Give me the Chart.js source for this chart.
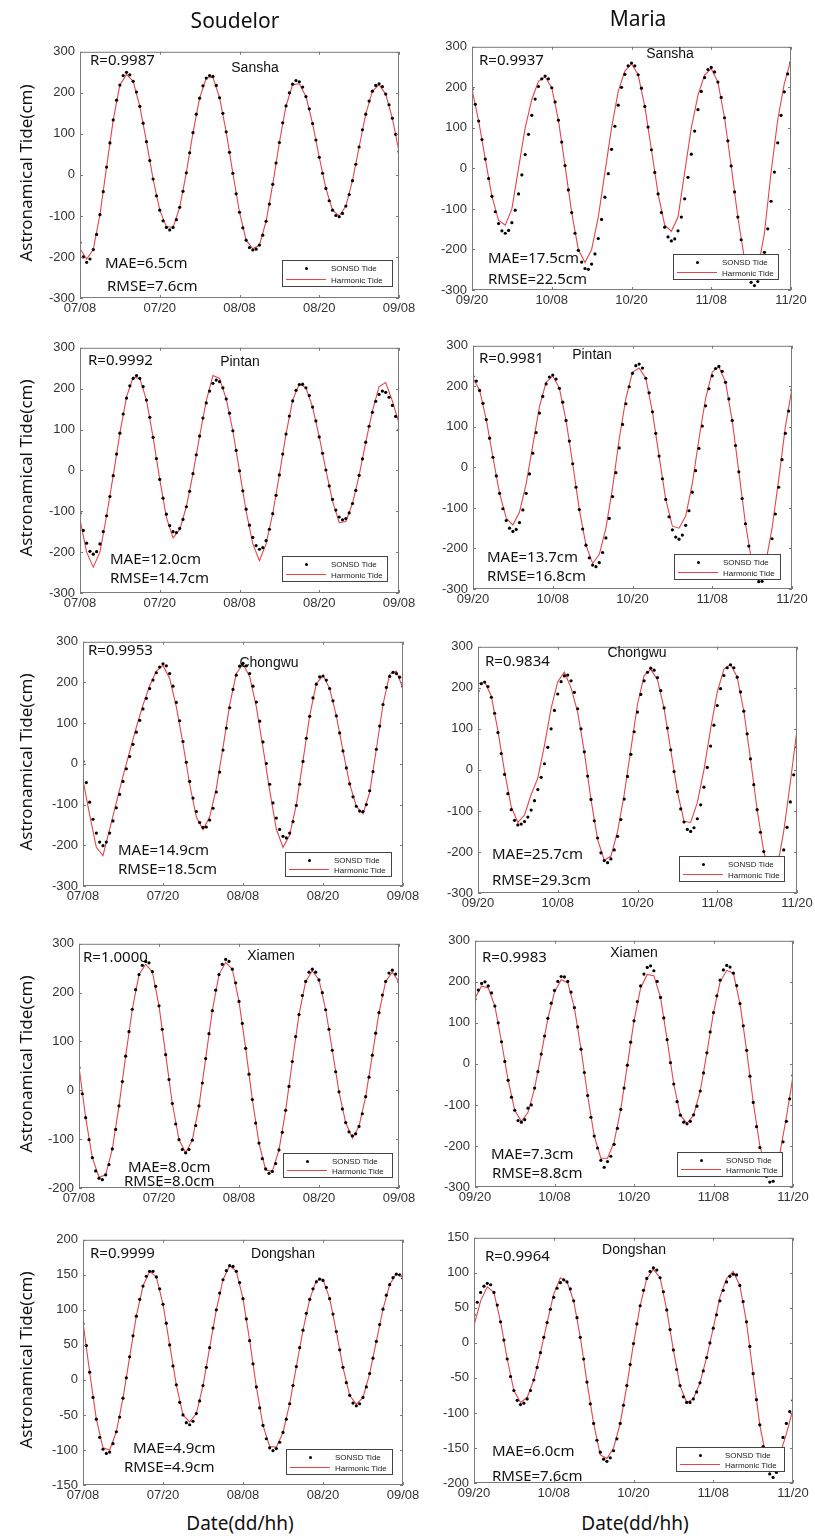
<!DOCTYPE html>
<html>
<head>
<meta charset="utf-8">
<script src="https://cdn.jsdelivr.net/npm/chart.js@4.4.0/dist/chart.umd.min.js"></script>
<style>
body{margin:0;background:#fff;}
#fig{position:relative;width:815px;height:1536px;overflow:hidden;background:#fff;font-family:"Noto Sans",sans-serif;}
.t{position:absolute;white-space:nowrap;line-height:1;color:#111;}
.leg{position:absolute;background:#fff;border:1px solid #444;box-sizing:border-box;font-family:"Liberation Sans",Arial,sans-serif;font-size:8px;color:#222;}
.leg span{position:absolute;white-space:nowrap;line-height:1;transform:translateY(-50%);}
.leg b{position:absolute;display:block;}
</style>
</head>
<body>
<div id="fig"></div>
<script>
// time axis (hours after first tick)
const obsHours=[0,0.5,1,1.5,2,2.5,3,3.5,4,4.5,5,5.5,6,6.5,7,7.5,8,8.5,9,9.5,10,10.5,11,11.5,12,12.5,13,13.5,14,14.5,15,15.5,16,16.5,17,17.5,18,18.5,19,19.5,20,20.5,21,21.5,22,22.5,23,23.5,24,24.5,25,25.5,26,26.5,27,27.5,28,28.5,29,29.5,30,30.5,31,31.5,32,32.5,33,33.5,34,34.5,35,35.5,36,36.5,37,37.5,38,38.5,39,39.5,40,40.5,41,41.5,42,42.5,43,43.5,44,44.5,45,45.5,46,46.5,47,47.5,48];
const harmHours=[0,1,2,3,4,5,6,7,8,9,10,11,12,13,14,15,16,17,18,19,20,21,22,23,24,25,26,27,28,29,30,31,32,33,34,35,36,37,38,39,40,41,42,43,44,45,46,47,48];

const soudelorTicks=["07/08","07/20","08/08","08/20","09/08"];
const mariaTicks=["09/20","10/08","10/20","11/08","11/20"];
const stations=["Sansha","Pintan","Chongwu","Xiamen","Dongshan"];

const soudelorR=[0.9987,0.9992,0.9953,1.0000,0.9999];
const soudelorMAE=[6.5,12.0,14.9,8.0,4.9];
const soudelorRMSE=[7.6,14.7,18.5,8.0,4.9];
const mariaR=[0.9937,0.9981,0.9834,0.9983,0.9964];
const mariaMAE=[17.5,13.7,25.7,7.3,6.0];
const mariaRMSE=[22.5,16.8,29.3,8.8,7.6];

// Soudelor
const soudelorSanshaObs=[-165,-200,-213,-205,-182,-145,-97,-41,19,78,134,182,219,242,250,244,228,202,167,126,81,35,-10,-51,-86,-112,-128,-134,-128,-109,-79,-40,5,54,103,148,187,217,236,242,240,218,188,150,105,55,4,-46,-91,-129,-159,-177,-183,-181,-171,-147,-113,-71,-23,29,79,127,168,200,221,230,227,214,191,161,125,85,43,4,-33,-63,-86,-99,-102,-94,-76,-48,-14,26,68,110,148,180,204,218,222,215,197,171,138,99,57];
const soudelorSanshaHarm=[-180,-205,-182,-97,19,134,219,245,228,167,81,-10,-86,-126,-128,-79,5,103,187,236,238,188,105,4,-91,-159,-180,-171,-113,-23,79,168,220,222,191,125,43,-33,-86,-100,-76,-14,68,148,204,220,197,138,57];

const soudelorPintanObs=[-105,-147,-178,-198,-205,-199,-180,-150,-111,-64,-13,40,91,138,177,207,225,232,225,205,172,130,81,29,-22,-68,-107,-135,-150,-152,-142,-120,-89,-51,-8,38,84,128,165,194,213,221,217,202,175,140,97,49,-1,-50,-95,-134,-164,-184,-193,-189,-172,-144,-106,-61,-11,40,89,133,170,196,210,211,202,183,155,121,82,42,1,-38,-71,-97,-114,-121,-118,-104,-81,-49,-12,28,69,108,142,169,186,194,191,179,159,132,99];
const soudelorPintanHarm=[-120,-200,-237,-200,-111,-13,91,180,228,225,172,81,-22,-115,-165,-145,-89,-8,84,170,232,225,175,97,-1,-100,-180,-221,-180,-106,-11,89,172,212,202,155,82,1,-75,-128,-125,-81,-12,69,145,205,215,170,115];

const soudelorChongwuObs=[6,-46,-94,-136,-170,-192,-201,-192,-170,-140,-108,-75,-43,-12,18,48,78,107,135,161,185,206,224,238,246,241,222,191,151,106,55,4,-43,-84,-117,-144,-156,-155,-138,-109,-69,-20,34,88,138,183,218,240,247,241,222,191,152,105,54,1,-50,-96,-133,-161,-178,-182,-170,-142,-102,-50,6,63,117,162,196,214,216,206,185,155,118,76,32,-10,-49,-81,-104,-116,-117,-100,-66,-19,36,93,146,188,215,225,222,213,190];
const soudelorChongwuHarm=[-40,-125,-205,-225,-160,-95,-30,30,90,145,192,228,242,210,140,50,-50,-130,-162,-130,-60,40,145,222,245,215,140,40,-65,-160,-205,-175,-100,8,118,197,217,185,118,32,-49,-104,-123,-70,36,146,220,228,185];

const soudelorXiamenObs=[46,-7,-56,-101,-138,-165,-180,-183,-173,-152,-120,-80,-32,18,70,120,166,206,237,256,264,261,243,213,173,125,73,22,-27,-69,-101,-121,-128,-121,-102,-72,-32,15,65,116,163,205,237,258,268,264,248,220,182,137,86,33,-19,-67,-108,-140,-161,-170,-166,-150,-122,-86,-41,8,59,110,155,194,223,242,248,242,226,200,165,125,82,38,-3,-38,-66,-85,-93,-89,-74,-48,-13,27,72,117,159,195,223,240,246,238,222];
const soudelorXiamenHarm=[48,-56,-138,-178,-173,-120,-32,70,166,237,258,243,173,73,-27,-101,-128,-102,-32,65,163,237,262,248,182,86,-19,-108,-163,-166,-122,-41,59,155,223,245,226,165,82,-3,-66,-98,-74,-13,72,159,223,242,222];

const soudelorDongshanObs=[80,49,11,-25,-56,-82,-99,-105,-103,-91,-74,-53,-26,3,33,63,91,115,134,148,155,155,147,130,108,81,50,20,-7,-32,-50,-61,-64,-59,-48,-30,-8,18,46,74,100,124,143,156,163,162,155,139,116,87,56,23,-10,-40,-65,-84,-97,-101,-98,-89,-75,-56,-34,-8,19,46,71,95,115,130,140,144,142,132,116,94,69,43,18,-4,-22,-33,-37,-34,-25,-10,9,31,55,79,101,121,136,146,151,150,145];
const soudelorDongshanHarm=[82,11,-56,-97,-100,-74,-26,33,91,134,155,147,108,50,-7,-50,-60,-48,-8,46,100,143,163,155,116,56,-10,-65,-95,-96,-75,-34,19,71,115,142,144,116,69,18,-22,-35,-25,9,55,101,136,152,146];

// Maria
const mariaSanshaObs=[195,158,117,71,23,-25,-69,-107,-136,-154,-160,-153,-134,-103,-63,-16,34,84,131,171,202,221,228,221,199,164,119,65,7,-53,-109,-160,-202,-231,-247,-249,-236,-211,-173,-126,-71,-13,47,104,156,200,232,253,260,253,231,198,153,102,46,-10,-63,-109,-145,-169,-179,-174,-154,-120,-75,-22,35,92,145,190,224,244,249,238,213,175,125,68,6,-58,-120,-176,-223,-259,-281,-289,-279,-251,-207,-149,-81,-9,63,131,189,233,261];
const mariaSanshaHarm=[195,117,23,-69,-128,-140,-100,0,100,170,215,226,199,119,7,-109,-200,-232,-200,-120,-10,100,190,240,258,231,153,46,-63,-140,-155,-120,-10,100,180,230,246,213,125,6,-120,-223,-268,-250,-160,-10,120,210,268];

const mariaPintanObs=[224,213,190,158,118,72,25,-21,-64,-102,-131,-150,-158,-153,-136,-105,-64,-16,35,86,134,175,206,223,228,218,195,161,116,65,9,-49,-104,-152,-192,-223,-241,-245,-235,-210,-174,-126,-72,-13,48,106,157,199,232,251,255,245,220,184,137,84,28,-28,-79,-122,-154,-172,-177,-167,-143,-107,-61,-8,47,102,152,194,226,244,249,237,210,169,116,54,-11,-77,-139,-194,-238,-268,-282,-281,-261,-226,-176,-115,-49,19,84,139,191];
const mariaPintanHarm=[220,190,118,25,-64,-125,-142,-110,-40,55,150,210,226,195,116,9,-104,-192,-237,-215,-150,-50,70,170,235,245,220,137,28,-79,-145,-150,-120,-40,70,170,235,248,210,116,-11,-139,-238,-272,-240,-150,-30,100,195];

const mariaChongwuObs=[192,210,214,203,177,138,91,40,-11,-58,-97,-123,-134,-132,-126,-115,-98,-75,-48,-18,15,55,100,145,185,215,229,231,217,189,149,100,44,-15,-72,-124,-166,-202,-221,-226,-217,-195,-162,-121,-71,-16,38,93,141,184,217,238,248,243,225,193,151,102,49,-4,-53,-95,-127,-145,-150,-141,-119,-85,-42,6,58,109,157,198,230,249,256,249,226,190,143,88,27,-36,-97,-152,-199,-235,-257,-265,-262,-238,-195,-140,-78,-12,55];
const mariaChongwuHarm=[210,215,180,95,-5,-90,-128,-110,-60,-20,60,150,215,238,200,140,44,-72,-170,-220,-210,-150,-60,50,160,230,245,220,150,49,-53,-125,-128,-80,0,100,190,245,258,226,143,27,-97,-199,-255,-240,-150,-30,98];

const mariaXiamenObs=[158,180,196,200,190,173,141,100,54,6,-40,-81,-113,-138,-142,-136,-108,-100,-59,-19,24,68,111,148,179,201,213,212,201,175,137,90,36,-21,-77,-130,-176,-205,-235,-252,-238,-225,-196,-157,-111,-59,-3,53,105,152,190,219,235,239,227,201,162,112,59,3,-49,-92,-125,-142,-146,-140,-124,-103,-66,-22,27,78,125,166,204,229,240,236,221,191,147,93,33,-30,-94,-153,-204,-245,-274,-288,-286,-265,-232,-190,-140,-85,-28];
const mariaXiamenHarm=[160,190,185,141,54,-40,-113,-140,-118,-59,24,111,175,205,198,137,36,-77,-176,-230,-230,-190,-111,-3,105,185,218,215,162,59,-49,-125,-145,-125,-66,27,125,200,228,221,147,33,-94,-200,-258,-260,-220,-130,-30];

const mariaDongshanObs=[40,58,72,81,85,83,72,54,30,4,-23,-48,-68,-82,-88,-86,-80,-68,-53,-35,-14,8,29,48,65,78,86,90,87,77,60,36,8,-23,-56,-87,-115,-139,-156,-166,-169,-164,-154,-137,-115,-89,-61,-31,-1,27,53,75,92,102,107,104,93,73,47,19,-10,-38,-61,-77,-85,-85,-80,-70,-57,-40,-21,0,21,40,60,75,87,95,98,97,82,59,30,-5,-44,-81,-117,-148,-172,-187,-192,-185,-163,-135,-115,-98,-82];
const mariaDongshanHarm=[25,60,80,72,30,-23,-68,-85,-78,-53,-14,29,70,93,87,60,8,-56,-115,-160,-165,-150,-115,-61,-1,53,92,105,93,47,-10,-61,-85,-80,-57,-21,21,65,92,102,82,30,-44,-117,-165,-175,-160,-130,-95];

const fig=document.getElementById("fig");
Chart.defaults.font.family='"Liberation Sans", Arial, sans-serif';
const red="#e5444c";

// panel layout: plot box [left,top,right,bottom], y range, annotation spots
const panels=[
 {obs:soudelorSanshaObs,harm:soudelorSanshaHarm,ticks:soudelorTicks,st:0,r:soudelorR[0],mae:soudelorMAE[0],rmse:soudelorRMSE[0],box:[80,47,399,298],y:[-300,300,100],rp:[90,59],sp:[255,67],mp:[105,262],ep:[107,285],lp:[282,260,111,27]},
 {obs:mariaSanshaObs,harm:mariaSanshaHarm,ticks:mariaTicks,st:0,r:mariaR[0],mae:mariaMAE[0],rmse:mariaRMSE[0],box:[472,42,791,290],y:[-300,300,100],rp:[479,59],sp:[670,53],mp:[488,257],ep:[488,278],lp:[673,254,106,26]},
 {obs:soudelorPintanObs,harm:soudelorPintanHarm,ticks:soudelorTicks,st:1,r:soudelorR[1],mae:soudelorMAE[1],rmse:soudelorRMSE[1],box:[80,343,399,593],y:[-300,300,100],rp:[88,359],sp:[240,361],mp:[110,558],ep:[110,577],lp:[282,556,106,26]},
 {obs:mariaPintanObs,harm:mariaPintanHarm,ticks:mariaTicks,st:1,r:mariaR[1],mae:mariaMAE[1],rmse:mariaRMSE[1],box:[473,341,792,589],y:[-300,300,100],rp:[479,357],sp:[592,354],mp:[487,556],ep:[487,575],lp:[674,554,107,26]},
 {obs:soudelorChongwuObs,harm:soudelorChongwuHarm,ticks:soudelorTicks,st:2,r:soudelorR[2],mae:soudelorMAE[2],rmse:soudelorRMSE[2],box:[83,637,403,886],y:[-300,300,100],rp:[88,649],sp:[269,662],mp:[118,849],ep:[118,868],lp:[285,852,107,25]},
 {obs:mariaChongwuObs,harm:mariaChongwuHarm,ticks:mariaTicks,st:2,r:mariaR[2],mae:mariaMAE[2],rmse:mariaRMSE[2],box:[478,642,797,893],y:[-300,300,100],rp:[485,660],sp:[637,652],mp:[492,853],ep:[492,879],lp:[679,856,106,26]},
 {obs:soudelorXiamenObs,harm:soudelorXiamenHarm,ticks:soudelorTicks,st:3,r:soudelorR[3],mae:soudelorMAE[3],rmse:soudelorRMSE[3],box:[79,939,399,1188],y:[-200,300,100],rp:[83,956],sp:[271,955],mp:[128,1166],ep:[124,1180],lp:[283,1153,110,25]},
 {obs:mariaXiamenObs,harm:mariaXiamenHarm,ticks:mariaTicks,st:3,r:mariaR[3],mae:mariaMAE[3],rmse:mariaRMSE[3],box:[475,936,793,1187],y:[-300,300,100],rp:[482,956],sp:[634,952],mp:[491,1153],ep:[492,1172],lp:[677,1152,106,25]},
 {obs:soudelorDongshanObs,harm:soudelorDongshanHarm,ticks:soudelorTicks,st:4,r:soudelorR[4],mae:soudelorMAE[4],rmse:soudelorRMSE[4],box:[83,1235,403,1485],y:[-150,200,50],rp:[90,1252],sp:[283,1253],mp:[133,1447],ep:[124,1466],lp:[286,1449,107,26]},
 {obs:mariaDongshanObs,harm:mariaDongshanHarm,ticks:mariaTicks,st:4,r:mariaR[4],mae:mariaMAE[4],rmse:mariaRMSE[4],box:[474,1233,793,1483],y:[-200,150,50],rp:[485,1255],sp:[634,1249],mp:[492,1450],ep:[492,1475],lp:[676,1447,109,25]}
];

// box round the plot and small inward ticks on all four sides
const frame={
  id:"frame",
  afterDatasetsDraw(chart){
    const {ctx,chartArea:a,scales:{x,y}}=chart;
    ctx.save();
    ctx.strokeStyle="#7a7a7a";
    ctx.lineWidth=1;
    ctx.strokeRect(a.left+0.5,a.top+0.5,a.right-a.left-1,a.bottom-a.top-1);
    ctx.beginPath();
    x.ticks.forEach(t=>{
      const p=Math.round(x.getPixelForValue(t.value))+0.5;
      ctx.moveTo(p,a.bottom);ctx.lineTo(p,a.bottom-3);
      ctx.moveTo(p,a.top);ctx.lineTo(p,a.top+3);
    });
    y.ticks.forEach(t=>{
      const p=Math.round(y.getPixelForValue(t.value))+0.5;
      ctx.moveTo(a.left,p);ctx.lineTo(a.left+3,p);
      ctx.moveTo(a.right,p);ctx.lineTo(a.right-3,p);
    });
    ctx.stroke();
    ctx.restore();
  }
};

function addText(str,x,y,css,center){
  const d=document.createElement("div");
  d.className="t";
  d.textContent=str;
  d.style.cssText+=`left:${x}px;top:${y}px;${css};transform:${center?"translate(-50%,-50%)":"translateY(-50%)"}`;
  fig.appendChild(d);
  return d;
}

function makePanel(p){
  const [L,T,R,B]=p.box;
  const w=R-L+45+20, h=B-T+8+22;
  const cv=document.createElement("canvas");
  cv.width=w;cv.height=h;
  cv.style.cssText=`position:absolute;left:${L-45}px;top:${T-8}px;width:${w}px;height:${h}px`;
  fig.appendChild(cv);
  new Chart(cv,{
    type:"scatter",
    data:{datasets:[
      {label:"SONSD Tide",data:obsHours.map((x,i)=>({x:x,y:p.obs[i]})),pointRadius:1.6,pointStyle:"circle",pointBackgroundColor:"#000",pointBorderWidth:0,showLine:false,order:0},
      {label:"Harmonic Tide",data:harmHours.map((x,i)=>({x:x,y:p.harm[i]})),showLine:true,borderColor:red,borderWidth:1.1,pointRadius:0,tension:0,order:1}
    ]},
    options:{
      responsive:false,animation:false,events:[],
      layout:{padding:{top:8,right:20,left:0,bottom:0}},
      plugins:{legend:{display:false},tooltip:{enabled:false}},
      scales:{
        x:{type:"linear",min:0,max:48,afterFit:s=>{s.height=22;},
           grid:{display:false,drawTicks:false},border:{display:false},
           ticks:{stepSize:12,autoSkip:false,maxRotation:0,padding:3,color:"#333",font:{size:13},callback:v=>p.ticks[v/12]}},
        y:{type:"linear",min:p.y[0],max:p.y[1],afterFit:s=>{s.width=45;},
           grid:{display:false,drawTicks:false},border:{display:false},
           ticks:{stepSize:p.y[2],padding:5,color:"#333",font:{size:13}}}
      }
    },
    plugins:[frame]
  });

  addText("R="+p.r.toFixed(4),p.rp[0],p.rp[1],"font-size:15px");
  addText(stations[p.st],p.sp[0],p.sp[1],"font-family:'Liberation Sans',Arial,sans-serif;font-size:14px",true);
  addText("MAE="+p.mae.toFixed(1)+"cm",p.mp[0],p.mp[1],"font-size:15px");
  addText("RMSE="+p.rmse.toFixed(1)+"cm",p.ep[0],p.ep[1],"font-size:15px");

  const [lx,ly,lw,lh]=p.lp;
  const lg=document.createElement("div");
  lg.className="leg";
  lg.style.cssText=`left:${lx}px;top:${ly}px;width:${lw}px;height:${lh}px`;
  lg.innerHTML=`<b style="left:22px;top:6px;width:3px;height:3px;border-radius:50%;background:#000"></b>
    <span style="left:48px;top:7.5px">SONSD Tide</span>
    <b style="left:3px;top:${lh-9}px;width:40px;height:0;border-top:1px solid ${red}"></b>
    <span style="left:48px;top:${lh-7.5}px">Harmonic Tide</span>`;
  fig.appendChild(lg);
}

panels.forEach(makePanel);

addText("Soudelor",235,20,"font-size:21px",true);
addText("Maria",638,18,"font-size:21px",true);
addText("Date(dd/hh)",240,1523,"font-size:19px",true);
addText("Date(dd/hh)",635,1523,"font-size:19px",true);
[0,2,4,6,8].forEach(i=>{
  const b=panels[i].box;
  const d=addText("Astronamical Tide(cm)",25,(b[1]+b[3])/2,"font-size:17px",true);
  d.style.transform="translate(-50%,-50%) rotate(-90deg)";
});
</script>
</body>
</html>
